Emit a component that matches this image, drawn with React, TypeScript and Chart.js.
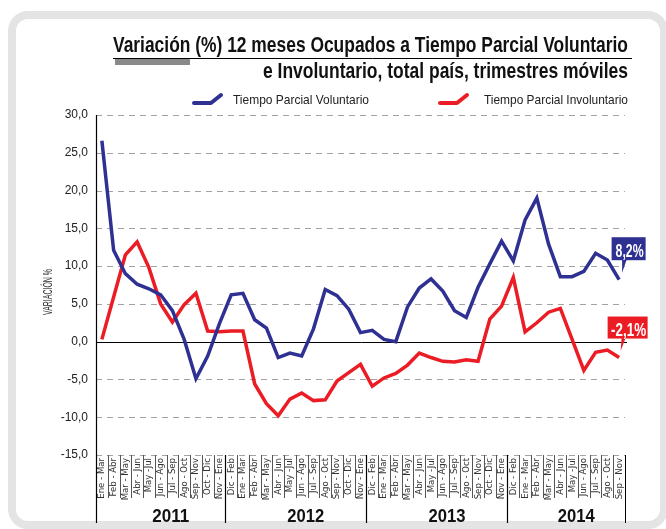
import React, { useEffect, useRef } from 'react';
import { Chart, registerables } from 'chart.js';

Chart.register(...registerables);

// ---------- data ----------
const categories: string[] = [
  'Ene - Mar', 'Feb - Abr', 'Mar - May', 'Abr - Jun', 'May -Jul', 'Jun - Ago', 'Jul - Sep', 'Ago - Oct', 'Sep - Nov', 'Oct - Dic', 'Nov - Ene',
  'Dic - Feb', 'Ene - Mar', 'Feb - Abr', 'Mar - May', 'Abr - Jun', 'May -Jul', 'Jun - Ago', 'Jul - Sep', 'Ago - Oct', 'Sep - Nov', 'Oct - Dic', 'Nov - Ene',
  'Dic - Feb', 'Ene - Mar', 'Feb - Abr', 'Mar - May', 'Abr - Jun', 'May -Jul', 'Jun - Ago', 'Jul - Sep', 'Ago - Oct', 'Sep - Nov', 'Oct - Dic', 'Nov - Ene',
  'Dic - Feb', 'Ene - Mar', 'Feb - Abr', 'Mar - May', 'Abr - Jun', 'May -Jul', 'Jun - Ago', 'Jul - Sep', 'Ago - Oct', 'Sep - Nov',
];

const years: string[] = ['2011', '2012', '2013', '2014'];
const yearFirstIndex: number[] = [0, 11, 23, 35];
const yearLastIndex: number[] = [10, 22, 34, 44];

const voluntario: number[] = [
  26.6, 12.1, 9.0, 7.6, 7.0, 6.2, 4.1, 0.3, -4.9, -1.9, 2.4,
  6.2, 6.4, 2.9, 1.8, -2.1, -1.5, -1.9, 1.7, 6.9, 6.1, 4.3, 1.2,
  1.5, 0.3, 0.0, 4.6, 7.1, 8.3, 6.7, 4.1, 3.2, 7.2, 10.3, 13.3,
  10.7, 16.1, 19.0, 12.9, 8.6, 8.6, 9.3, 11.7, 10.8, 8.2,
];

const involuntario: number[] = [
  0.3, 5.9, 11.5, 13.2, 9.8, 5.0, 2.6, 4.9, 6.4, 1.4, 1.3,
  1.4, 1.4, -5.6, -8.2, -9.8, -7.6, -6.8, -7.8, -7.7, -5.2, -4.1, -3.0,
  -5.9, -4.8, -4.2, -3.1, -1.5, -2.1, -2.6, -2.7, -2.4, -2.6, 3.0, 4.7,
  8.5, 1.3, 2.5, 3.9, 4.4, 0.3, -3.8, -1.4, -1.1, -2.1,
];

const seriesNames: string[] = ['Tiempo Parcial Voluntario', 'Tiempo Parcial Involuntario'];
const endLabels: string[] = ['8,2%', '-2,1%'];
const titleLines: string[] = [
  'Variación (%) 12 meses Ocupados a Tiempo Parcial Voluntario',
  'e Involuntario, total país, trimestres móviles',
];
const yAxisTitle = 'VARIACIÓN %';
const Y_MIN = -15;
const Y_MAX = 30;
const Y_STEP = 5;

// ---------- style ----------
const BLUE = '#2e3192';
const RED = '#ec1c24';
const REG = "'Liberation Sans', Arial, Helvetica, sans-serif";
const NARROW = "'Liberation Sans Narrow', 'Arial Narrow', 'DejaVu Sans Condensed', 'Liberation Sans', sans-serif";

function fitText(
  ctx: CanvasRenderingContext2D,
  text: string,
  x: number,
  y: number,
  targetW: number,
  font: string,
  align: 'left' | 'right' | 'center',
  color: string,
) {
  ctx.save();
  ctx.font = font;
  ctx.fillStyle = color;
  ctx.textBaseline = 'alphabetic';
  ctx.textAlign = 'left';
  const w = ctx.measureText(text).width;
  const s = targetW / w;
  const x0 = align === 'left' ? x : align === 'right' ? x - targetW : x - targetW / 2;
  ctx.translate(x0, y);
  ctx.scale(s, 1);
  ctx.fillText(text, 0, 0);
  ctx.restore();
}

function seg(ctx: CanvasRenderingContext2D, x1: number, y1: number, x2: number, y2: number) {
  ctx.beginPath();
  ctx.moveTo(x1, y1);
  ctx.lineTo(x2, y2);
  ctx.stroke();
}

const decorPlugin = {
  id: 'decor',
  beforeDatasetsDraw(chart: any) {
    const { ctx, chartArea: a, scales } = chart;
    const y = scales.y;
    ctx.save();
    ctx.lineWidth = 1.2;
    ctx.strokeStyle = '#a3a3a3';
    ctx.setLineDash([6, 5]);
    for (let v = Y_MIN; v <= Y_MAX; v += Y_STEP) {
      if (v === 0) continue;
      const py = Math.round(y.getPixelForValue(v)) + 0.5;
      seg(ctx, a.left, py, a.right, py);
    }
    ctx.setLineDash([]);
    ctx.lineWidth = 1;
    ctx.strokeStyle = '#000';
    const zy = Math.round(y.getPixelForValue(0)) + 0.5;
    seg(ctx, a.left, zy, a.right + 2, zy);
    ctx.restore();
  },
  afterDraw(chart: any) {
    const { ctx, chartArea: a, scales } = chart;
    const x = scales.x;
    const y = scales.y;
    const step = x.getPixelForValue(1) - x.getPixelForValue(0);
    ctx.save();

    // y axis line
    ctx.strokeStyle = '#000';
    ctx.lineWidth = 1.2;
    const ax = Math.round(a.left) + 0.5;
    seg(ctx, ax, a.top, ax, a.bottom + 68);

    // category separators
    const bottom = a.bottom;
    for (let i = 1; i < categories.length; i++) {
      const bx = Math.round((x.getPixelForValue(i - 1) + x.getPixelForValue(i)) / 2) + 0.5;
      const isYear = yearFirstIndex.includes(i);
      ctx.strokeStyle = isYear ? '#000' : '#555';
      ctx.lineWidth = isYear ? 1.2 : 1;
      seg(ctx, bx, bottom, bx, isYear ? bottom + 68 : bottom + 43);
    }
    const rx = Math.round(x.getPixelForValue(categories.length - 1) + step / 2) + 0.5;
    ctx.strokeStyle = '#000';
    seg(ctx, rx, bottom, rx, bottom + 68);

    // year labels
    years.forEach((yr, k) => {
      const left = x.getPixelForValue(yearFirstIndex[k]) - step / 2;
      const right = x.getPixelForValue(yearLastIndex[k]) + step / 2;
      fitText(ctx, yr, (left + right) / 2 + 10, bottom + 67, 37, `bold 19px ${REG}`, 'center', '#111');
    });

    // y axis title
    ctx.save();
    ctx.translate(52, 292);
    ctx.rotate(-Math.PI / 2);
    fitText(ctx, yAxisTitle, 0, 0, 46, `12px ${REG}`, 'center', '#333');
    ctx.restore();

    // title
    fitText(ctx, titleLines[0], 628, 52, 515, `bold 22px ${REG}`, 'right', '#111');
    fitText(ctx, titleLines[1], 628, 78, 365, `bold 22px ${REG}`, 'right', '#111');
    ctx.strokeStyle = '#000';
    ctx.lineWidth = 1;
    seg(ctx, 113, 58.5, 632, 58.5);
    ctx.fillStyle = '#8a8a8a';
    ctx.fillRect(115, 59, 75, 6);

    // legend
    const legend = [
      { color: BLUE, sx: 194, tx: 233, tw: 136, name: seriesNames[0] },
      { color: RED, sx: 440, tx: 484, tw: 144, name: seriesNames[1] },
    ];
    legend.forEach((l) => {
      ctx.strokeStyle = l.color;
      ctx.lineWidth = 4;
      ctx.lineCap = 'round';
      ctx.lineJoin = 'round';
      ctx.beginPath();
      ctx.moveTo(l.sx, 103);
      ctx.lineTo(l.sx + 17, 103);
      ctx.lineTo(l.sx + 27, 95);
      ctx.stroke();
      fitText(ctx, l.name, l.tx, 104, l.tw, `13px ${REG}`, 'left', '#222');
    });
    ctx.lineCap = 'butt';

    // end callouts
    const last = categories.length - 1;
    const px = x.getPixelForValue(last);
    const callouts = [
      { color: BLUE, text: endLabels[0], py: y.getPixelForValue(voluntario[last]), dx: -7.5, dy: -42.5, w: 34, h: 23, tw: 28, t1: 3, t2: 7.5, tip: [3, -7] },
      { color: RED, text: endLabels[1], py: y.getPixelForValue(involuntario[last]), dx: -11.5, dy: -41, w: 40, h: 22, tw: 35, t1: 2.5, t2: 6.5, tip: [1.5, -6.5] },
    ];
    callouts.forEach((c) => {
      const bx = px + c.dx;
      const by = c.py + c.dy;
      ctx.fillStyle = c.color;
      ctx.fillRect(bx, by, c.w, c.h);
      ctx.beginPath();
      ctx.moveTo(px + c.t1, by + c.h - 0.5);
      ctx.lineTo(px + c.t2, by + c.h - 0.5);
      ctx.lineTo(px + c.tip[0], c.py + c.tip[1]);
      ctx.closePath();
      ctx.fill();
      fitText(ctx, c.text, bx + c.w / 2 + 1, by + c.h - 3, c.tw, `bold 19px ${REG}`, 'center', '#fff');
    });

    ctx.restore();
  },
};

export default function App() {
  const ref = useRef<HTMLCanvasElement>(null);

  useEffect(() => {
    if (!ref.current) return;
    const chart = new Chart(ref.current, {
      type: 'line',
      data: {
        labels: categories,
        datasets: [
          { label: seriesNames[0], data: voluntario, borderColor: BLUE, backgroundColor: BLUE, borderWidth: 3.5, pointRadius: 0, tension: 0, fill: false },
          { label: seriesNames[1], data: involuntario, borderColor: RED, backgroundColor: RED, borderWidth: 3.5, pointRadius: 0, tension: 0, fill: false },
        ],
      },
      options: {
        responsive: false,
        animation: false,
        devicePixelRatio: 1,
        layout: { padding: { top: 115, left: 0, right: 41, bottom: 0 } },
        plugins: {
          legend: { display: false },
          tooltip: { enabled: false },
          title: { display: false },
        },
        scales: {
          x: {
            type: 'category',
            offset: true,
            grid: { display: false, drawTicks: false },
            border: { display: false },
            ticks: {
              autoSkip: false,
              minRotation: 90,
              maxRotation: 90,
              padding: 3,
              color: '#333',
              font: { family: NARROW, size: 9.5 },
            },
            afterFit: (s: any) => { s.height = 74; },
          },
          y: {
            min: Y_MIN,
            max: Y_MAX,
            grid: { display: false, drawTicks: false },
            border: { display: false },
            ticks: {
              stepSize: Y_STEP,
              padding: 8,
              color: '#222',
              font: { family: REG, size: 12 },
              callback: (v: any) => Number(v).toFixed(1).replace('.', ','),
            },
            afterFit: (s: any) => { s.width = 96; },
          },
        },
      },
      plugins: [decorPlugin],
    } as any);
    return () => chart.destroy();
  }, []);

  return (
    <div style={{ position: 'absolute', left: 0, top: 0, width: 666, height: 529, overflow: 'hidden', background: '#fff' }}>
      <div
        style={{
          position: 'absolute',
          left: 8,
          top: 11,
          width: 660,
          height: 518,
          boxSizing: 'border-box',
          border: '8px solid #e4e4e4',
          borderRadius: 20,
        }}
      />
      <canvas ref={ref} width={666} height={529} style={{ position: 'absolute', left: 0, top: 0, display: 'block' }} />
    </div>
  );
}
